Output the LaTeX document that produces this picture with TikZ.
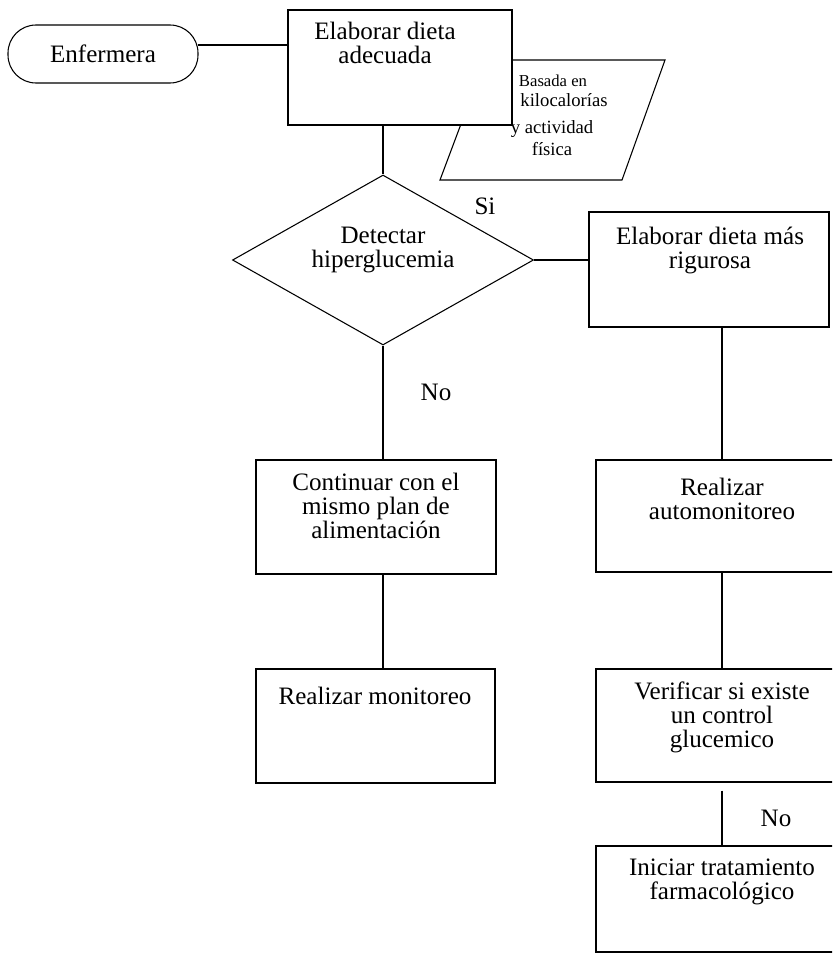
\documentclass[tikz,border=0pt]{standalone}
\usepackage{fontspec}
\setmainfont{Liberation Serif}
\usetikzlibrary{shapes.geometric,calc}

\tikzset{
  lw/.style={line width=0.8pt},
  procbox/.style={draw, lw, rectangle, fill=white, inner sep=0pt},
  txt/.style={align=center, inner sep=0pt, font=\fontsize{18.8pt}{18pt}\selectfont},
  smalltxt/.style={anchor=base, inner sep=0pt, font=\fontsize{14pt}{17pt}\selectfont},
  conn/.style={draw, lw},
}

\begin{document}
\begin{tikzpicture}[x=0.75pt, y=-0.75pt]
  \useasboundingbox (0,0) rectangle (832,956);
  \clip (0,0) rectangle (832,956);

  % start terminal
  \node[draw, lw, rectangle, rounded corners=21pt, minimum width=0.75*190pt,
        minimum height=0.75*58pt, inner sep=0pt] (enf) at (103,54) {};
  \node[txt] (enftxt) at (103,54) {Enfermera};

  % data parallelogram behind the first process box
  \coordinate (p1) at (485,60);
  \coordinate (p2) at (665,60);
  \coordinate (p3) at (622,180);
  \coordinate (p4) at (440,180);
  \draw[lw] (p1) -- (p2) -- (p3) -- (p4) -- cycle;
  \node[smalltxt, font=\fontsize{12.5pt}{15pt}\selectfont] (dat1) at (553,86) {Basada en};
  \node[smalltxt] (dat2) at (564,107) {kilocalorías};
  \node[smalltxt] (dat3) at (552,133) {y actividad};
  \node[smalltxt] (dat4) at (552,155) {física};

  % first process box
  \node[procbox, minimum width=0.75*224pt, minimum height=0.75*115pt] (adec) at (400,67.5) {};
  \node[txt] (adectxt) at (385,43) {Elaborar dieta\\ adecuada};

  % decision
  \node[draw, lw, diamond, minimum width=0.75*301pt, minimum height=0.75*170pt,
        inner sep=0pt] (det) at (383,260) {};
  \node[txt] (dettxt) at (383,250) {Detectar\\ hiperglucemia};

  % right column
  \node[procbox, minimum width=0.75*240pt, minimum height=0.75*115pt] (rig) at (709,269.5) {};
  \node[txt] (rigtxt) at (710,250) {Elaborar dieta más\\ rigurosa};

  \node[procbox, minimum width=0.75*252pt, minimum height=0.75*112pt] (auto) at (722,516) {};
  \node[txt] (autotxt) at (722,499) {Realizar\\ automonitoreo};

  \node[procbox, minimum width=0.75*252pt, minimum height=0.75*113pt] (ver) at (722,725.5) {};
  \node[txt] (vertxt) at (722,717) {Verificar si existe\\ un control\\ glucemico};

  \node[procbox, minimum width=0.75*252pt, minimum height=0.75*106pt] (ini) at (722,899) {};
  \node[txt] (initxt) at (722,882) {Iniciar tratamiento\\ farmacológico};

  % left column
  \node[procbox, minimum width=0.75*240pt, minimum height=0.75*114pt] (cont) at (376,517) {};
  \node[txt] (conttxt) at (376,506) {Continuar con el\\ mismo plan de\\ alimentación};

  \node[procbox, minimum width=0.75*239pt, minimum height=0.75*114pt] (mon) at (375.5,726) {};
  \node[txt] (montxt) at (375,696) {Realizar monitoreo};

  % connectors
  \path (enf.east) ++(-1,-9) coordinate (e1);
  \draw[conn] (e1) -- (e1 -| adec.west);
  \draw[conn] (det.north |- adec.south) -- (det.north);
  \draw[conn] (det.east) -- (det.east -| rig.west);
  \draw[conn] (det.south) -- (det.south |- cont.north);
  \draw[conn] (det.south |- cont.south) -- (det.south |- mon.north);
  \draw[conn] (auto.north |- rig.south) -- (auto.north);
  \draw[conn] (auto.south) -- (ver.north);
  \draw[conn] ($(ver.south)+(0,8)$) -- (ini.north);

  % branch labels
  \node[txt] (si) at (485,206) {Si};
  \node[txt] (no1) at (436,392) {No};
  \node[txt] (no2) at (776,818) {No};
\end{tikzpicture}
\end{document}
